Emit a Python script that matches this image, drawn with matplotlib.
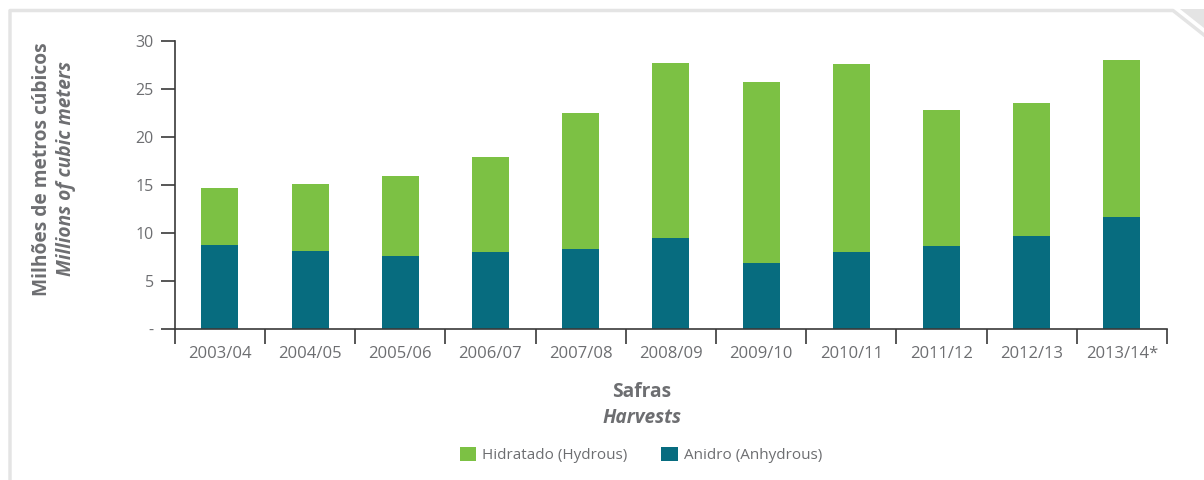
import matplotlib
matplotlib.use("Agg")
import matplotlib.pyplot as plt
from matplotlib.patches import Patch, Polygon
from matplotlib.lines import Line2D
import numpy as np

plt.rcParams['font.family'] = ['Open Sans', 'DejaVu Sans']

harvests = ["2003/04", "2004/05", "2005/06", "2006/07", "2007/08", "2008/09",
            "2009/10", "2010/11", "2011/12", "2012/13", "2013/14*"]
anidro = [8.78, 8.16, 7.64, 8.05, 8.36, 9.51, 6.91, 8.05, 8.68, 9.72, 11.70]
hidratado = [5.94, 6.98, 8.33, 9.90, 14.17, 18.23, 18.85, 19.58, 14.16, 13.85, 16.35]
yticks = [0, 5, 10, 15, 20, 25, 30]
ytick_labels = ["-", "5", "10", "15", "20", "25", "30"]

GREEN = "#7cc144"
TEAL = "#076c7f"
TXT = "#6d6e71"
AX = "#3a3a3a"
FRAME = "#e4e4e4"

W, H = 1204, 480
fig = plt.figure(figsize=(W / 100, H / 100), dpi=100)
ax = fig.add_axes([174.7 / W, 1 - 329.3 / H, (1167 - 174.7) / W, (329.3 - 41.3) / H])

x = np.arange(len(harvests))
ax.bar(x, anidro, width=0.41, color=TEAL, zorder=2)
ax.bar(x, hidratado, width=0.41, bottom=anidro, color=GREEN, zorder=2)

ax.set_xlim(-0.5, len(harvests) - 0.5)
ax.set_ylim(0, 30)

for s in ["top", "right"]:
    ax.spines[s].set_visible(False)
for s in ["left", "bottom"]:
    ax.spines[s].set_color(AX)
    ax.spines[s].set_linewidth(1.2)

ax.set_yticks(yticks)
ax.set_yticklabels(ytick_labels)
ax.tick_params(axis="y", length=10, width=1.2, color=AX, labelcolor=TXT, labelsize=11.5, pad=5)

ax.set_xticks(x)
ax.set_xticklabels(harvests)
ax.set_xticks(np.arange(-0.5, len(harvests)), minor=True)
ax.tick_params(axis="x", which="major", length=0, labelcolor=TXT, labelsize=12, pad=12)
ax.tick_params(axis="x", which="minor", length=11, width=1.2, color=AX)

# Axis titles
fig.text(42 / W, 1 - 169 / H, "Milhões de metros cúbicos", rotation=90, ha="center", va="center",
         fontsize=13.8, fontweight="bold", color=TXT)
fig.text(66 / W, 1 - 169 / H, "Millions of cubic meters", rotation=90, ha="center", va="center",
         fontsize=13.8, fontweight="bold", fontstyle="italic", color=TXT)
fig.text(642 / W, 1 - 392 / H, "Safras", ha="center", va="center",
         fontsize=13.8, fontweight="bold", color=TXT)
fig.text(642 / W, 1 - 418 / H, "Harvests", ha="center", va="center",
         fontsize=13.8, fontweight="bold", fontstyle="italic", color=TXT)

handles = [Patch(facecolor=GREEN, label="Hidratado (Hydrous)"),
           Patch(facecolor=TEAL, label="Anidro (Anhydrous)")]
leg = fig.legend(handles=handles, loc="center", bbox_to_anchor=(641 / W, 1 - 455 / H), ncol=2,
                 frameon=False, fontsize=11, handlelength=1.1, handleheight=1.1,
                 handletextpad=0.4, columnspacing=2.2)
for t in leg.get_texts():
    t.set_color(TXT)

# Decorative frame
def fx(px):
    return px / W

def fy(py):
    return 1 - py / H

fig.add_artist(Line2D([fx(10), fx(10), fx(1173), fx(1204)],
                      [fy(480), fy(10.5), fy(10.5), fy(35)],
                      color=FRAME, linewidth=2.5, transform=fig.transFigure))
fig.add_artist(Polygon([[fx(1180), fy(9)], [fx(1204), fy(9)], [fx(1204), fy(28)]],
                       closed=True, facecolor=FRAME, edgecolor="none", transform=fig.transFigure))

fig.savefig("out.png", dpi=100)
